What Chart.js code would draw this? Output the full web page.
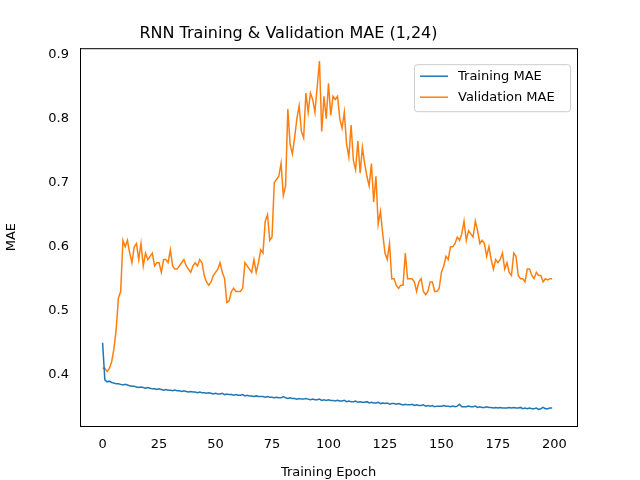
<!DOCTYPE html>
<html><head><meta charset="utf-8">
<script src="https://cdn.jsdelivr.net/npm/chart.js@4"></script>
<style>body{margin:0;background:#fff}</style>
</head><body><canvas id="c" width="640" height="480"></canvas>
<script>
const xTicks = [0, 25, 50, 75, 100, 125, 150, 175, 200];
const yTicks = [0.4, 0.5, 0.6, 0.7, 0.8, 0.9];
const trainMAE = [
.45,.392,.389,.39,.388,.387,.386,.386,.385,.384,
.385,.384,.383,.382,.382,.381,.380,.381,.380,.379,
.380,.379,.378,.378,.377,.378,.377,.376,.377,.376,
.376,.375,.376,.375,.375,.374,.375,.374,.373,.374,
.373,.373,.372,.373,.372,.372,.371,.372,.371,.370,
.371,.370,.370,.371,.369,.370,.369,.369,.368,.369,
.368,.368,.369,.367,.368,.367,.367,.366,.367,.366,
.366,.366,.365,.366,.365,.365,.364,.365,.364,.364,
.366,.364,.363,.364,.363,.363,.362,.363,.362,.362,
.363,.362,.361,.362,.361,.361,.362,.360,.361,.360,
.361,.360,.360,.359,.360,.359,.359,.360,.358,.359,
.358,.358,.359,.357,.358,.357,.357,.358,.356,.357,
.356,.356,.357,.355,.356,.355,.356,.354,.355,.355,
.354,.355,.354,.353,.354,.353,.353,.354,.352,.353,
.352,.352,.353,.351,.352,.351,.352,.350,.351,.351,
.351,.352,.351,.351,.350,.351,.350,.351,.354,.350,
.350,.350,.351,.350,.350,.351,.349,.350,.349,.349,
.350,.349,.349,.348,.349,.348,.349,.348,.348,.348,
.349,.348,.349,.348,.348,.349,.347,.348,.347,.348,
.347,.347,.348,.346,.347,.349,.347,.347,.348,.348];
const valMAE = [
.41,.41,.405,.41,.42,.44,.47,.52,.53,.61,
.60,.61,.59,.575,.60,.605,.58,.605,.57,.59,
.58,.585,.59,.57,.575,.575,.56,.58,.58,.575,
.595,.57,.565,.565,.57,.575,.58,.57,.565,.56,
.57,.575,.57,.58,.575,.555,.545,.54,.545,.555,
.56,.565,.575,.56,.55,.513,.515,.53,.535,.53,
.53,.53,.535,.575,.57,.565,.56,.58,.56,.575,
.595,.59,.64,.65,.61,.615,.70,.705,.71,.73,
.68,.695,.815,.76,.745,.77,.80,.82,.78,.77,
.84,.81,.84,.83,.81,.85,.89,.78,.835,.80,
.855,.805,.835,.83,.835,.80,.785,.81,.76,.74,
.79,.735,.72,.765,.715,.755,.73,.71,.695,.73,
.67,.71,.635,.655,.62,.59,.58,.605,.55,.55,
.54,.535,.54,.54,.59,.55,.55,.55,.545,.53,
.545,.55,.53,.525,.53,.545,.545,.53,.53,.535,
.56,.57,.585,.58,.60,.60,.605,.615,.61,.62,
.64,.61,.625,.62,.615,.64,.625,.605,.61,.605,
.585,.60,.58,.565,.58,.575,.58,.59,.565,.575,
.56,.555,.59,.585,.555,.55,.55,.545,.565,.565,
.555,.55,.56,.555,.555,.545,.55,.548,.55,.55];

const labels = trainMAE.map((_, i) => i);
const font = { family: 'DejaVu Sans', size: 13 };

const framePlugin = {
    id: 'frame',
    afterDraw(chart) {
        const { ctx, chartArea: a } = chart;
        ctx.save();
        ctx.strokeStyle = '#000';
        ctx.lineWidth = 1;
        ctx.strokeRect(a.left + 0.5, a.top + 0.5, a.right - a.left, a.bottom - a.top);
        // legend box inside top right
        const bx = a.right - 163, by = a.top + 16, bw = 156, bh = 47;
        ctx.strokeStyle = '#ccc';
        ctx.fillStyle = 'rgba(255,255,255,0.8)';
        ctx.beginPath();
        ctx.roundRect(bx + 0.5, by + 0.5, bw, bh, 3);
        ctx.fill();
        ctx.stroke();
        ctx.font = '13px "DejaVu Sans"';
        ctx.textBaseline = 'middle';
        chart.data.datasets.forEach((ds, i) => {
            const yy = by + 12 + i * 21;
            ctx.strokeStyle = ds.borderColor;
            ctx.lineWidth = 1.5;
            ctx.beginPath();
            ctx.moveTo(bx + 6, yy);
            ctx.lineTo(bx + 34, yy);
            ctx.stroke();
            ctx.fillStyle = '#000';
            ctx.fillText(ds.label, bx + 44, yy);
        });
        ctx.restore();
    }
};

new Chart(document.getElementById('c'), {
    type: 'line',
    data: {
        labels,
        datasets: [
            { label: 'Training MAE', data: trainMAE, borderColor: '#1f77b4', borderWidth: 1.5, pointRadius: 0 },
            { label: 'Validation MAE', data: valMAE, borderColor: '#ff7f0e', borderWidth: 1.5, pointRadius: 0 }
        ]
    },
    options: {
        responsive: false,
        animation: false,
        devicePixelRatio: 1,
        layout: { padding: { top: 24, right: 63, left: 0, bottom: 0 } },
        plugins: {
            legend: { display: false },
            tooltip: { enabled: false },
            title: { display: true, text: 'RNN Training & Validation MAE (1,24)', color: '#000',
                     font: { family: 'DejaVu Sans', size: 16, weight: 'normal' }, padding: { top: 0, bottom: 5 } }
        },
        scales: {
            x: {
                type: 'linear', min: -10, max: 210,
                grid: { display: false },
                border: { color: '#000' },
                afterBuildTicks: s => { s.ticks = xTicks.map(v => ({ value: v })); },
                afterFit: s => { s.height = 54; },
                ticks: { color: '#000', font, maxRotation: 0, autoSkip: false, callback: v => v },
                title: { display: true, text: 'Training Epoch', color: '#000', font, padding: 0 }
            },
            y: {
                min: 0.32, max: 0.91,
                grid: { display: false },
                border: { color: '#000' },
                afterBuildTicks: s => { s.ticks = yTicks.map(v => ({ value: v })); },
                afterFit: s => { s.width = 80; },
                ticks: { color: '#000', font, autoSkip: false, callback: v => v.toFixed(1) },
                title: { display: true, text: 'MAE', color: '#000', font }
            }
        }
    },
    plugins: [framePlugin]
});
</script></body></html>
